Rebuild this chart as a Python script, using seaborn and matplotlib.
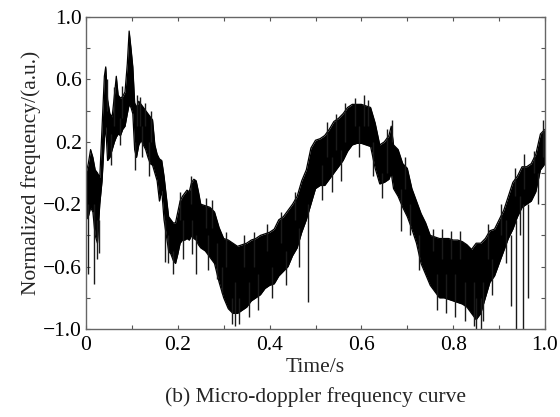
import numpy as np
import pandas as pd
import matplotlib
matplotlib.use("Agg")
import matplotlib.pyplot as plt
import seaborn as sns

# Time stamps (s) at which the band envelope was read
time_s = [0.000, 0.005, 0.010, 0.015, 0.020, 0.025, 0.030, 0.035, 0.040, 0.043,
          0.047, 0.052, 0.057, 0.062, 0.066, 0.070, 0.075, 0.080, 0.085, 0.090,
          0.094, 0.098, 0.102, 0.106, 0.110, 0.115, 0.120, 0.125, 0.130, 0.135,
          0.140, 0.145, 0.150, 0.155, 0.160, 0.165, 0.170, 0.175, 0.180, 0.185,
          0.190, 0.195, 0.200, 0.205, 0.210, 0.215, 0.220, 0.225, 0.230, 0.235,
          0.240, 0.245, 0.250, 0.260, 0.270, 0.280, 0.290, 0.300, 0.310, 0.320,
          0.330, 0.340, 0.350, 0.360, 0.370, 0.380, 0.390, 0.400, 0.410, 0.420,
          0.430, 0.440, 0.450, 0.460, 0.470, 0.480, 0.490, 0.500, 0.510, 0.520,
          0.530, 0.540, 0.550, 0.560, 0.570, 0.580, 0.590, 0.600, 0.610, 0.620,
          0.630, 0.640, 0.650, 0.660, 0.665, 0.670, 0.680, 0.690, 0.700, 0.710,
          0.720, 0.730, 0.740, 0.750, 0.760, 0.770, 0.780, 0.790, 0.800, 0.810,
          0.820, 0.830, 0.840, 0.850, 0.860, 0.870, 0.880, 0.890, 0.900, 0.910,
          0.920, 0.930, 0.940, 0.950, 0.960, 0.970, 0.980, 0.990, 1.000]

# Upper edge of the noisy band (normalized frequency)
upper = [0.00, 0.06, 0.15, 0.10, 0.02, 0.00, -0.03, 0.30, 0.62, 0.68,
         0.47, 0.38, 0.36, 0.50, 0.62, 0.50, 0.48, 0.49, 0.52, 0.70,
         0.91, 0.80, 0.68, 0.45, 0.42, 0.46, 0.44, 0.42, 0.40, 0.38,
         0.36, 0.34, 0.18, 0.12, 0.09, 0.08, -0.02, -0.15, -0.28, -0.30,
         -0.32, -0.32, -0.25, -0.18, -0.15, -0.13, -0.11, -0.12, -0.06, -0.04,
         -0.05, -0.12, -0.20, -0.21, -0.22, -0.25, -0.35, -0.42, -0.43, -0.45,
         -0.47, -0.46, -0.45, -0.43, -0.42, -0.40, -0.39, -0.38, -0.36, -0.30,
         -0.28, -0.24, -0.20, -0.15, -0.05, 0.02, 0.16, 0.21, 0.22, 0.24,
         0.28, 0.33, 0.35, 0.38, 0.42, 0.44, 0.44, 0.44, 0.43, 0.42,
         0.32, 0.18, 0.20, 0.24, 0.30, 0.18, 0.15, 0.06, 0.03, -0.10,
         -0.18, -0.26, -0.32, -0.40, -0.41, -0.42, -0.42, -0.42, -0.43, -0.43,
         -0.44, -0.46, -0.49, -0.45, -0.45, -0.42, -0.37, -0.36, -0.30, -0.24,
         -0.15, -0.06, -0.02, 0.04, 0.04, 0.06, 0.12, 0.25, 0.28]

# Lower edge of the noisy band
lower = [-0.30, -0.28, -0.22, -0.25, -0.40, -0.45, -0.20, -0.05, 0.22, 0.30,
         0.08, 0.10, 0.15, 0.20, 0.23, 0.25, 0.24, 0.28, 0.30, 0.38,
         0.44, 0.42, 0.38, 0.15, 0.10, 0.18, 0.21, 0.18, 0.15, 0.10,
         0.06, 0.05, 0.00, -0.05, -0.18, -0.11, -0.30, -0.40, -0.50, -0.52,
         -0.56, -0.58, -0.52, -0.45, -0.43, -0.43, -0.42, -0.43, -0.40, -0.42,
         -0.43, -0.46, -0.48, -0.50, -0.54, -0.58, -0.70, -0.80, -0.87, -0.90,
         -0.90, -0.88, -0.86, -0.82, -0.80, -0.78, -0.74, -0.72, -0.71, -0.66,
         -0.63, -0.60, -0.53, -0.48, -0.38, -0.30, -0.20, -0.10, -0.08, -0.08,
         -0.04, 0.00, 0.04, 0.08, 0.14, 0.18, 0.19, 0.19, 0.18, 0.17,
         0.03, -0.07, -0.06, -0.04, 0.00, -0.10, -0.15, -0.22, -0.28, -0.36,
         -0.45, -0.58, -0.65, -0.72, -0.76, -0.80, -0.80, -0.81, -0.82, -0.83,
         -0.84, -0.86, -0.90, -0.94, -0.90, -0.80, -0.70, -0.66, -0.58, -0.50,
         -0.42, -0.36, -0.28, -0.22, -0.20, -0.18, -0.12, 0.02, 0.06]

# Isolated spikes and edge protrusions: time, start value, end value
spike_t = [0.004, 0.017, 0.024, 0.028, 0.107, 0.172, 0.190, 0.240, 0.296, 0.318,
           0.333, 0.483, 0.605, 0.666, 0.686, 0.850, 0.860, 0.926, 0.937, 0.952,
           0.963,
           0.045, 0.060, 0.078, 0.112, 0.118, 0.128, 0.142, 0.205, 0.228, 0.262,
           0.275, 0.305, 0.345, 0.365, 0.395, 0.425, 0.455, 0.525, 0.545, 0.565,
           0.585, 0.615, 0.655, 0.695, 0.755, 0.775, 0.795, 0.815, 0.875, 0.905,
           0.935, 0.955, 0.975, 0.995,
           0.055, 0.073, 0.122, 0.138, 0.178, 0.212, 0.232, 0.265, 0.285, 0.325,
           0.355, 0.375, 0.405, 0.435, 0.465, 0.515, 0.535, 0.555, 0.595, 0.625,
           0.645, 0.705, 0.725, 0.765, 0.785, 0.805, 0.825, 0.845, 0.865, 0.885,
           0.915, 0.945, 0.985]
spike_from = [-0.20, -0.20, -0.30, -0.30, 0.20, -0.30, -0.50, -0.40, -0.60, -0.80,
              -0.80, -0.20, 0.30, 0.20, -0.10, -0.80, -0.80, -0.40, -0.30, -0.20,
              -0.20,
              0.40, 0.30, 0.35, 0.30, 0.30, 0.30, 0.20, -0.30, -0.20, -0.35,
              -0.35, -0.60, -0.60, -0.60, -0.50, -0.45, -0.30, 0.10, 0.15, 0.20,
              0.30, 0.30, 0.00, -0.10, -0.50, -0.55, -0.55, -0.55, -0.55, -0.40,
              -0.15, -0.10, 0.00, 0.10,
              0.25, 0.35, 0.30, 0.20, -0.40, -0.30, -0.30, -0.40, -0.45, -0.70,
              -0.70, -0.65, -0.60, -0.50, -0.35, 0.05, 0.10, 0.15, 0.30, 0.20,
              0.00, -0.20, -0.40, -0.65, -0.65, -0.65, -0.70, -0.70, -0.70, -0.55,
              -0.30, -0.15, 0.00]
spike_to = [-0.65, -0.71, -0.55, -0.51, 0.02, -0.57, -0.65, -0.65, -0.77, -0.97,
            -0.97, -0.83, 0.50, 0.34, -0.37, -1.00, -1.00, -0.85, -1.00, -1.00,
            -0.80,
            0.60, 0.55, 0.56, 0.50, 0.49, 0.45, 0.40, -0.12, -0.02, -0.16,
            -0.17, -0.38, -0.40, -0.38, -0.33, -0.25, -0.12, 0.33, 0.38, 0.45,
            0.48, 0.47, 0.28, 0.10, -0.36, -0.36, -0.37, -0.37, -0.33, -0.20,
            0.03, 0.12, 0.14, 0.34,
            0.05, 0.18, 0.10, -0.02, -0.58, -0.55, -0.52, -0.62, -0.68, -0.98,
            -0.92, -0.88, -0.80, -0.72, -0.60, -0.17, -0.12, -0.05, 0.10, -0.02,
            -0.16, -0.40, -0.62, -0.88, -0.90, -0.92, -0.95, -0.98, -0.95, -0.78,
            -0.58, -0.40, -0.20]

x_ticks = [0, 0.1, 0.2, 0.3, 0.4, 0.5, 0.6, 0.7, 0.8, 0.9, 1.0]
x_labels = ["0", "", "0.2", "", "0.4", "", "0.6", "", "0.8", "", "1.0"]
y_ticks = [-1.0, -0.8, -0.6, -0.4, -0.2, 0.0, 0.2, 0.4, 0.6, 0.8, 1.0]
y_labels = ["\u22121.0", "", "\u22120.6", "", "\u22120.2", "", "0.2", "", "0.6", "", "1.0"]

sns.set_style("ticks")
plt.rcParams["font.family"] = ["Liberation Serif", "DejaVu Serif"]

FS = 15.5

fig = plt.figure(figsize=(5.6, 4.17), dpi=100)
ax = fig.add_axes([86 / 560, 1 - 329 / 417, (545 - 86) / 560, (329 - 17) / 417])

df = pd.DataFrame({"t": time_s, "upper": upper, "lower": lower})
ax.fill_between(df["t"], df["lower"], df["upper"], color="black", lw=0)
sns.lineplot(data=df, x="t", y="upper", color="black", lw=0.9, ax=ax)
sns.lineplot(data=df, x="t", y="lower", color="black", lw=0.9, ax=ax)
ax.vlines(spike_t, spike_from, spike_to, color="#1a1a1a", lw=1.0)

ax.set_xlim(0, 1.0)
ax.set_ylim(-1.0, 1.0)
ax.set_xticks(x_ticks)
ax.set_xticklabels(x_labels)
ax.set_yticks(y_ticks)
ax.set_yticklabels(y_labels)
ax.tick_params(direction="in", length=3, width=0.8, top=True, right=True,
               labelsize=FS, colors="#555555", labelcolor="black")
ax.tick_params(axis="x", pad=5)
ax.tick_params(axis="y", pad=3)
for s in ax.spines.values():
    s.set_visible(True)
    s.set_color("#666666")
    s.set_linewidth(1.0)

ax.set_xlabel("Time/s", fontsize=FS, labelpad=2)
ax.set_ylabel("Normalized frequency/(a.u.)", fontsize=FS, labelpad=1)
fig.text((86 + 545) / 2 / 560, 1 - 397 / 417, "(b) Micro-doppler frequency curve",
         ha="center", va="center", fontsize=FS)

fig.savefig("out.png", dpi=100)
